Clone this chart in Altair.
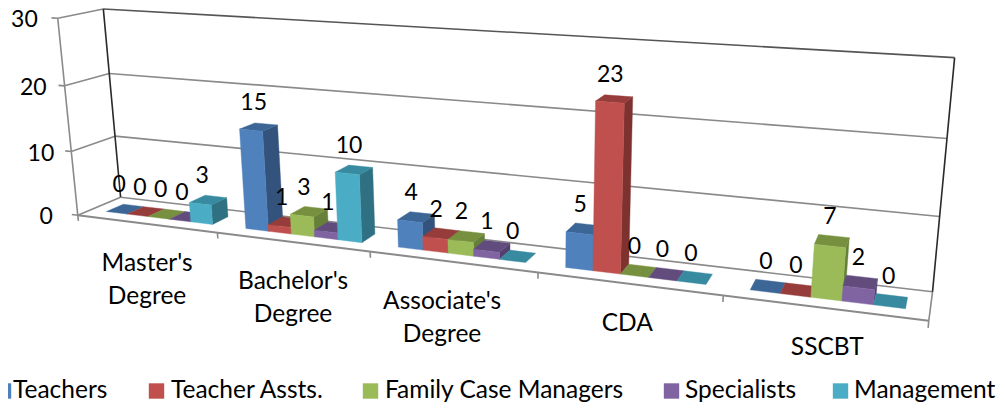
import numpy as np
import altair as alt

categories = [["Master's", "Degree"], ["Bachelor's", "Degree"], ["Associate's", "Degree"], ["CDA"], ["SSCBT"]]
series = ["Teachers", "Teacher Assts.", "Family Case Managers", "Specialists", "Management"]
values = [
    [0, 15, 4, 5, 0],
    [0, 1, 2, 23, 0],
    [0, 3, 2, 0, 7],
    [0, 1, 1, 0, 2],
    [3, 10, 0, 0, 0],
]
front_colors = ["#4F81BD", "#C0504D", "#9BBB59", "#8064A2", "#4BACC6"]
top_colors = ["#3C6696", "#963D3B", "#76903F", "#624C7E", "#378A9F"]
side_colors = ["#33537D", "#7D3230", "#66803A", "#543F6E", "#2F7182"]
axis_ticks = [0, 10, 20, 30]
axis_max = 30
FONT = "Lato"
FS = 23
TS = 24.5
GREY = "#8a8a8a"
DARK = "#2a2a2a"

# camera calibration: world (along, depth, height) -> picture position
anchors = [
    (0, 0, 0, 81, 214), (0, 1, 0, 120, 196), (0, 0, 1, 60, 18.5), (0, 1, 1, 103, 10),
    (1, 0, 0, 929, 319), (1, 1, 0, 933, 292), (1, 1, 1, 955, 57),
    (0, 0, 1/3, 67, 150), (0, 0, 2/3, 63, 85), (0, 1, 1/3, 115, 136), (0, 1, 2/3, 110, 74),
    (1, 1, 1/3, 939, 217), (1, 1, 2/3, 947, 138),
    (.2, 0, 0, 219, 233), (.4, 0, 0, 370, 257), (.6, 0, 0, 537, 272), (.8, 0, 0, 723, 295),
]
A = []
for u, v, w, x, y in anchors:
    x, y = x - 8, y - 8
    A.append([u, v, w, 1, 0, 0, 0, 0, -x*u, -x*v, -x*w, -x])
    A.append([0, 0, 0, 0, u, v, w, 1, -y*u, -y*v, -y*w, -y])
P = np.linalg.svd(np.array(A))[2][-1].reshape(3, 4)


def proj(u, v, w):
    h = P @ np.array([u, v, w, 1.0])
    return [float(h[0] / h[2]), float(h[1] / h[2])]


def poly(points, color):
    ring = points + [points[0]]
    return {"type": "Feature", "geometry": {"type": "Polygon", "coordinates": [ring]},
            "properties": {"c": color}}


def seg(a, b, color, width=1.6):
    return {"type": "Feature", "geometry": {"type": "LineString", "coordinates": [proj(*a), proj(*b)]},
            "properties": {"c": color, "w": width}}


lines = []
for t in axis_ticks:
    w = t / axis_max
    if t == 0:
        continue
    dark = t == axis_max
    lines.append(seg((0, 0, w), (0, 1, w), GREY))
    lines.append(seg((0, 1, w), (1, 1, w), "#555555" if dark else GREY))
for t in axis_ticks:
    w = t / axis_max
    lines.append(seg((-0.009, 0, w), (0, 0, w), GREY))
lines += [
    seg((0, 0, 0), (0, 1, 0), GREY), seg((0, 1, 0), (1, 1, 0), GREY),
    seg((0, 0, 0), (1, 0, 0), GREY, 2), seg((1, 0, 0), (1, 1, 0), GREY),
    seg((0, 0, 0), (0, 0, 1), GREY),
    seg((0, 1, 0), (0, 1, 1), DARK), seg((1, 1, 0), (1, 1, 1), DARK),
]
for i in range(6):
    lines.append(seg((i / 5, 0, 0), (i / 5, 0, -0.03), GREY))

cat_w = 1 / len(categories)
bw = cat_w / (len(series) + 1.5)
v0, v1 = 0.3, 0.7
label_dx = [-6, -5, -5, -4, -2]
faces = []
labels = []
for c in range(len(categories)):
    for s in range(len(series)):
        val = values[s][c]
        w = val / axis_max
        u0 = c * cat_w + 0.75 * bw + s * bw
        u1 = u0 + bw
        if val > 0:
            faces.append(poly([proj(u1, v0, 0), proj(u1, v1, 0), proj(u1, v1, w), proj(u1, v0, w)], side_colors[s]))
        faces.append(poly([proj(u0, v0, w), proj(u1, v0, w), proj(u1, v1, w), proj(u0, v1, w)], top_colors[s]))
        if val > 0:
            faces.append(poly([proj(u0, v0, 0), proj(u1, v0, 0), proj(u1, v0, w), proj(u0, v0, w)], front_colors[s]))
        x, y = proj((u0 + u1) / 2, 0.5, w)
        labels.append({"x": x + label_dx[c], "y": y - 24, "t": str(val)})

axis_labels = []
for t, dx in zip(axis_ticks, [-25, -17, -18, -20]):
    x, y = proj(0, 0, t / axis_max)
    axis_labels.append({"x": x + dx, "y": y + 2, "t": str(t)})

cat_nudge = [1, 1, -10, -1, 4]
cat_labels = []
for i, names in enumerate(categories):
    x, y = proj((i + .5) * cat_w, 0, 0)
    for j, n in enumerate(names):
        cat_labels.append({"x": x + cat_nudge[i], "y": y + 40 + j * 33, "t": n})

# legend row
legend_x = [-8, 149, 363, 664, 833]
legend_text_x = [13, 171, 385, 685, 854]
legend_y = 391
swatch = 15
legend_faces = []
legend_labels = []
for n, c, lx, tx in zip(series, front_colors, legend_x, legend_text_x):
    x0 = max(lx - 8, 0)
    x1 = max(lx - 8 + swatch, 3)
    y0, y1 = legend_y - 8 - swatch / 2, legend_y - 8 + swatch / 2
    legend_faces.append(poly([[x0, y0], [x1, y0], [x1, y1], [x0, y1]], c))
    legend_labels.append({"x": tx - 8, "y": legend_y - 8, "t": n})

prj = alt.Projection(type="identity", scale=1, translate=[0, 0], reflectY=False)


def shapes(data, **kw):
    return alt.Chart(alt.Data(values=data)).mark_geoshape(**kw).project(**prj.to_dict())


line_layer = shapes(lines, filled=False).encode(
    stroke=alt.Color("properties.c:N", scale=None),
    strokeWidth=alt.StrokeWidth("properties.w:Q", scale=None),
)
face_layer = shapes(faces + legend_faces, strokeWidth=0.4).encode(
    fill=alt.Color("properties.c:N", scale=None),
    stroke=alt.Color("properties.c:N", scale=None),
)


def texts(rows, align, size):
    return alt.Chart(alt.Data(values=rows)).mark_text(
        font=FONT, fontSize=size, color="#000000", align=align, baseline="middle"
    ).encode(longitude="x:Q", latitude="y:Q", text="t:N").project(**prj.to_dict())


chart = alt.layer(
    line_layer, face_layer,
    texts(labels, "center", FS), texts(axis_labels, "right", FS),
    texts(cat_labels, "center", TS), texts(legend_labels, "left", TS),
).properties(width=989, height=394, padding=0, autosize=alt.AutoSizeParams(type="none")
).configure_view(stroke=None)

chart.save("out.html", embed_options={"renderer": "svg", "actions": False})
